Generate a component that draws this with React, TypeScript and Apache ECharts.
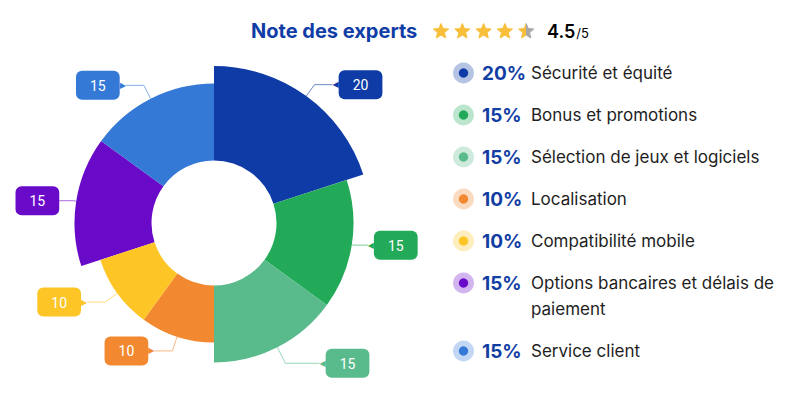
import React, { useEffect, useRef } from 'react';
import * as echarts from 'echarts';

const categories = [
  'Sécurité et équité',
  'Bonus et promotions',
  'Sélection de jeux et logiciels',
  'Localisation',
  'Compatibilité mobile',
  'Options bancaires et délais de paiement',
  'Service client',
];
const values = [20, 15, 15, 10, 10, 15, 15];
const colors = ['#0E3BA5', '#22AA58', '#59BB8C', '#F2882F', '#FDC526', '#6A0AC9', '#3579D7'];
const titleText = 'Note des experts';
const rating = 4.5;
const ratingMax = 5;

// leader-line lengths (styling only): [radial part, horizontal part]
const leaderLengths = [
  [14, 18],
  [2, 14],
  [18, 34],
  [15, 18],
  [15, 18],
  [3, 14],
  [15, 18],
];

const FONT = 'Inter, "Noto Sans", sans-serif';

function rgba(hex: string, a: number) {
  const n = parseInt(hex.slice(1), 16);
  return `rgba(${(n >> 16) & 255},${(n >> 8) & 255},${n & 255},${a})`;
}

function starPoints(cx: number, cy: number, ro: number, ri: number) {
  const pts: number[][] = [];
  for (let k = 0; k < 10; k++) {
    const r = k % 2 === 0 ? ro : ri;
    const a = -Math.PI / 2 + (k * Math.PI) / 5;
    pts.push([cx + r * Math.cos(a), cy + r * Math.sin(a)]);
  }
  return pts;
}

export default function App() {
  const ref = useRef<HTMLDivElement>(null);
  useEffect(() => {
    document.body.style.margin = '0';
    const chart = echarts.init(ref.current!, null, { renderer: 'svg' });
    const total = values.reduce((a, b) => a + b, 0);
    const vmax = Math.max(...values);
    const cx = 214, cy = 223, r0 = 62.5, rMax = 157;
    const radiusOf = (v: number) => Math.sqrt(r0 * r0 + ((rMax * rMax - r0 * r0) * v) / vmax);

    let cum = 0;
    const rightSide = values.map((v) => {
      const mid = ((cum + v / 2) / total) * 360;
      cum += v;
      return mid < 180;
    });

    const groups = Array.from(new Set(values)).sort((a, b) => b - a);
    const series = groups.map((g) => ({
      type: 'pie',
      center: [cx, cy],
      radius: [r0, radiusOf(g)],
      startAngle: 90,
      clockwise: true,
      emphasis: { disabled: true },
      itemStyle: { borderWidth: 0, borderRadius: 0 },
      label: {
        position: 'outside',
        distanceToLabelLine: 0,
        formatter: (p: any) =>
          rightSide[p.dataIndex] ? `{t|◀}{b|${p.value}}` : `{b|${p.value}}{t|▶}`,
      },
      labelLine: { length: 15, length2: 18, smooth: false, lineStyle: { width: 1 } },
      data: categories.map((name, i) => {
        const on = values[i] === g;
        return {
          name,
          value: values[i],
          itemStyle: { color: on ? colors[i] : 'transparent' },
          label: on
            ? {
                show: true,
                rich: {
                  b: {
                    backgroundColor: colors[i],
                    color: '#fff',
                    borderRadius: 6,
                    padding: [8, 14, 7, 14],
                    fontSize: 14,
                    lineHeight: 16,
                    fontFamily: 'Roboto, sans-serif',
                  },
                  t: { color: colors[i], fontSize: 8, fontFamily: '"DejaVu Sans"' },
                },
              }
            : { show: false },
          labelLine: on
            ? {
                show: true,
                length: leaderLengths[i][0],
                length2: leaderLengths[i][1],
                lineStyle: { color: rgba(colors[i], 0.6) },
              }
            : { show: false },
        };
      }),
    }));

    const graphics: any[] = [];
    graphics.push({
      type: 'text',
      x: 251,
      y: 31,
      style: {
        text: titleText,
        fontSize: 20,
        fontWeight: 'bold',
        fontFamily: FONT,
        fill: '#0F3CA6',
        verticalAlign: 'middle',
      },
    });
    const gold = '#F8BF3A';
    const grey = '#A8A8A8';
    for (let s = 0; s < ratingMax; s++) {
      const f = Math.max(0, Math.min(1, rating - s));
      const fill =
        f >= 1
          ? gold
          : f <= 0
          ? grey
          : new echarts.graphic.LinearGradient(0, 0, 1, 0, [
              { offset: 0, color: gold },
              { offset: f, color: gold },
              { offset: f, color: grey },
              { offset: 1, color: grey },
            ]);
      graphics.push({
        type: 'polygon',
        shape: { points: starPoints(441 + s * 21.3, 31.5, 8, 3.6) },
        style: { fill, lineJoin: 'round', stroke: fill, lineWidth: 1 },
      });
    }
    graphics.push({
      type: 'text',
      x: 547,
      y: 31,
      style: {
        text: `{a|${rating}}{b|/${ratingMax}}`,
        verticalAlign: 'middle',
        rich: {
          a: { fontSize: 18, fontWeight: 600, fontFamily: FONT, color: '#111' },
          b: { fontSize: 13, fontFamily: FONT, color: '#111', padding: [4, 0, 0, 1] },
        },
      },
    });

    const lineH = 26;
    const nameWidth = 256;
    const nameSize = 17;
    let y = 73;
    categories.forEach((name, i) => {
      const pct = Math.round((values[i] / total) * 100) + '%';
      const measure = new echarts.graphic.Text({
        style: {
          text: name,
          fontSize: nameSize,
          fontFamily: FONT,
          width: nameWidth,
          overflow: 'break',
          lineHeight: lineH,
        },
      });
      const lines = Math.max(1, Math.round(measure.getBoundingRect().height / lineH));
      graphics.push({
        type: 'circle',
        shape: { cx: 463.5, cy: y, r: 10.5 },
        style: { fill: rgba(colors[i], 0.3) },
      });
      graphics.push({
        type: 'circle',
        shape: { cx: 463.5, cy: y, r: 4.7 },
        style: { fill: colors[i] },
      });
      graphics.push({
        type: 'text',
        x: 482,
        y: y,
        style: {
          text: pct,
          fontSize: 19,
          fontWeight: 'bold',
          fontFamily: FONT,
          fill: '#123EA4',
          verticalAlign: 'middle',
        },
      });
      graphics.push({
        type: 'text',
        x: 531,
        y: y - lineH / 2,
        style: {
          text: name,
          fontSize: nameSize,
          fontFamily: FONT,
          fill: '#1E1E1E',
          width: nameWidth,
          overflow: 'break',
          lineHeight: lineH,
          verticalAlign: 'top',
        },
      });
      y += 42 + lineH * (lines - 1);
    });

    chart.setOption({
      animation: false,
      backgroundColor: '#fff',
      series,
      graphic: { elements: graphics },
    });
    return () => chart.dispose();
  }, []);
  return <div ref={ref} style={{ width: 800, height: 393 }} />;
}
